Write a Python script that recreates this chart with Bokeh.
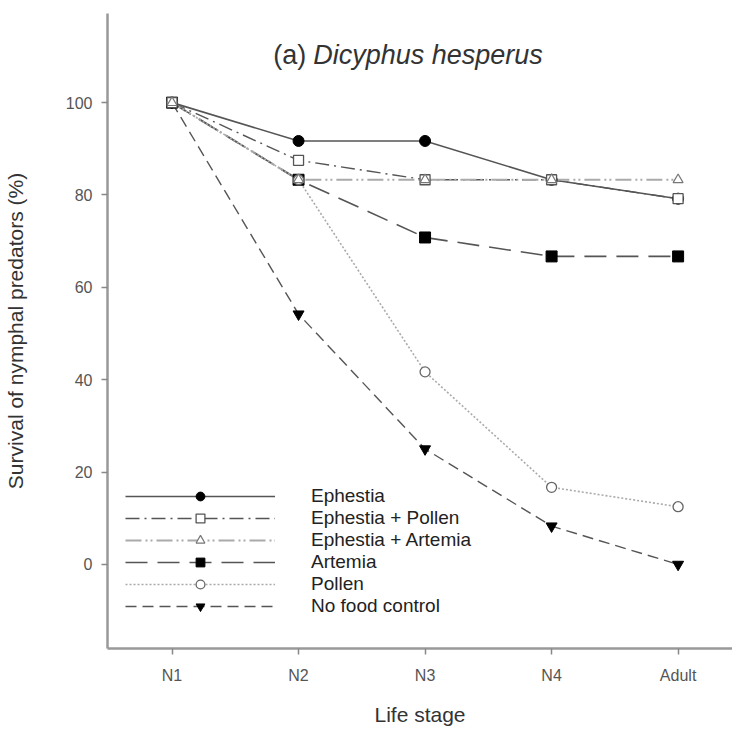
from bokeh.plotting import figure
from bokeh.embed import file_html
from bokeh.resources import INLINE
from bokeh.models import Range1d, FixedTicker, Label

stages = ["N1", "N2", "N3", "N4", "Adult"]
x = [0, 1, 2, 3, 4]
ephestia = [100, 91.7, 91.7, 83.3, 79.2]
ephestia_pollen = [100, 87.5, 83.3, 83.3, 79.2]
ephestia_artemia = [100, 83.3, 83.3, 83.3, 83.3]
artemia = [100, 83.3, 70.8, 66.7, 66.7]
pollen = [100, 83.3, 41.7, 16.7, 12.5]
no_food = [100, 54.2, 25.0, 8.3, 0.0]
y_ticks = [0, 20, 40, 60, 80, 100]

FONT = "Liberation Sans"

p = figure(width=732, height=738, output_backend="svg", toolbar_location=None,
           x_range=Range1d(-0.51, 4.43), y_range=Range1d(-18.2, 119.3),
           min_border_left=107, min_border_right=0, min_border_top=13,
           min_border_bottom=90)
p.outline_line_color = None
p.xgrid.visible = False
p.ygrid.visible = False
p.background_fill_color = "white"

series = [
    ("Ephestia", ephestia, dict(line_color="#555555", line_width=1.6, line_dash="solid"),
     dict(marker="circle", size=11, fill_color="black", line_color="black")),
    ("Ephestia + Pollen", ephestia_pollen, dict(line_color="#555555", line_width=1.4, line_dash="14 5 2 5"),
     dict(marker="square", size=10, fill_color="white", line_color="#555555", line_width=1.3)),
    ("Ephestia + Artemia", ephestia_artemia, dict(line_color="#aaaaaa", line_width=2.2, line_dash="16 4 2 3 2 4"),
     dict(marker="triangle", size=10, fill_color="white", line_color="#777777", line_width=1.2)),
    ("Artemia", artemia, dict(line_color="#555555", line_width=1.6, line_dash="22 10"),
     dict(marker="square", size=11, fill_color="black", line_color="black")),
    ("Pollen", pollen, dict(line_color="#aaaaaa", line_width=1.6, line_dash="2 2"),
     dict(marker="circle", size=10, fill_color="white", line_color="#666666", line_width=1.3)),
    ("No food control", no_food, dict(line_color="#555555", line_width=1.4, line_dash="11 6"),
     dict(marker="inverted_triangle", size=11, fill_color="black", line_color="black")),
]

for name, ys, lkw, _ in series:
    p.line(x, ys, legend_label=name, **lkw)

marker_order = ["Ephestia", "Artemia", "Pollen", "No food control", "Ephestia + Pollen", "Ephestia + Artemia"]
lookup = {s[0]: s for s in series}
for name in marker_order:
    _, ys, _, mkw = lookup[name]
    p.scatter(x, ys, legend_label=name, **mkw)

leg = p.legend[0]
leg.location = (18, 31)
leg.padding = 0
leg.margin = 0
leg.spacing = 0
leg.glyph_width = 150
leg.glyph_height = 22
leg.label_height = 22
leg.label_standoff = 36
leg.border_line_alpha = 0
leg.background_fill_alpha = 0
leg.label_text_font = FONT
leg.label_text_font_size = "19px"
leg.label_text_color = "#222222"

# axes
p.xaxis.ticker = FixedTicker(ticks=x)
p.xaxis.major_label_overrides = {i: s for i, s in zip(x, stages)}
p.yaxis.ticker = FixedTicker(ticks=y_ticks)
for ax in (p.xaxis[0], p.yaxis[0]):
    ax.axis_line_color = "#999999"
    ax.axis_line_width = 2.5
    ax.major_tick_line_color = "#888888"
    ax.major_tick_line_width = 1.5
    ax.major_tick_in = 0
    ax.major_tick_out = 6
    ax.minor_tick_line_color = None
    ax.major_label_text_font = FONT
    ax.major_label_text_font_size = "16px"
    ax.major_label_text_color = "#555555"
    ax.axis_label_text_font = FONT
    ax.axis_label_text_font_size = "21px"
    ax.axis_label_text_font_style = "normal"
    ax.axis_label_text_color = "#333333"

p.xaxis.axis_label = "Life stage"
p.xaxis.major_label_standoff = 12
p.xaxis.axis_label_standoff = 16
p.yaxis.axis_label = "Survival of nymphal predators (%)"
p.yaxis.major_label_standoff = 9
p.yaxis.axis_label_standoff = 36

# title inside plot area
t1 = Label(x=0.8, y=110.4, text="(a) ", text_font=FONT, text_font_size="27px",
           text_baseline="middle", text_align="left", text_color="#333333")
t2 = Label(x=0.8, y=110.4, x_offset=40, text="Dicyphus hesperus", text_font=FONT,
           text_font_size="27px", text_font_style="italic", text_baseline="middle",
           text_align="left", text_color="#333333")
p.add_layout(t1)
p.add_layout(t2)

open("out.html", "w").write(file_html(p, INLINE))
